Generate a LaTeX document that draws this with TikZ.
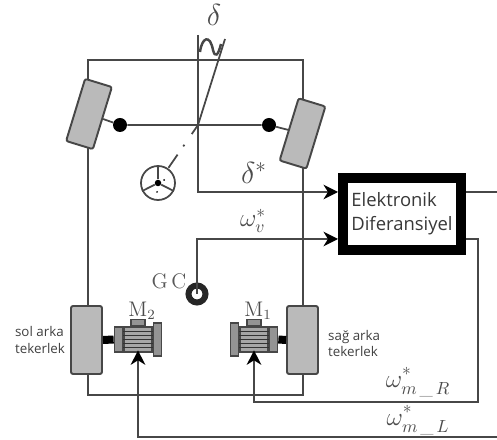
\documentclass[tikz,border=0pt]{standalone}
\usepackage{amsmath,amssymb}
\usepackage{fontspec}
\setsansfont{Open Sans}
\usetikzlibrary{shapes,arrows.meta,positioning,calc}

\begin{document}
\begin{tikzpicture}[
    line/.style={draw=black!72, line width=1pt},
    arrow/.style={line, -{Stealth[length=2.9mm, width=2.9mm, inset=0.9mm, black]}},
    wheel/.style={rectangle, draw=black!72, line width=1.1pt, fill=black!27, rounded corners=1.2pt},
    axledot/.style={circle, fill=black, inner sep=0pt, minimum size=0.28cm},
    endcap/.style={rectangle, draw=black!72, line width=0.9pt, fill=black!42, inner sep=0pt, minimum width=0.16cm},
    motorbody/.style={rectangle, draw=black!72, line width=0.9pt, fill=black!35, inner sep=0pt, minimum width=0.56cm, minimum height=0.5cm},
    fin/.style={black!80, line width=0.9pt},
    shaft/.style={black, line width=0.16cm},
    wheeltext/.style={font=\sffamily\fontsize{7.6}{9.6}\selectfont, text=black!75, align=left},
    mathtext/.style={font=\LARGE, text=black!70},
    omegatext/.style={font=\Large, text=black!70}
]
\useasboundingbox (0,0) rectangle (9.94,8.78);

% Vehicle frame and wheels
\node[line, rectangle, minimum width=4.3cm, minimum height=6.7cm] (frame) at (3.91,4.23) {};

\node[wheel, minimum width=0.56cm, minimum height=1.3cm, rotate=-17] (wheel_fl) at (1.78,6.5) {};
\node[wheel, minimum width=0.56cm, minimum height=1.3cm, rotate=-17] (wheel_fr) at (6.05,6.11) {};
\node[wheel, minimum width=0.62cm, minimum height=1.36cm] (wheel_rl) at (1.73,1.98) {};
\node[wheel, minimum width=0.62cm, minimum height=1.36cm] (wheel_rr) at (6.05,1.98) {};

% Front axle
\node[axledot] (axle_l) at (2.40,6.28) {};
\node[axledot] (axle_r) at (5.38,6.28) {};
\coordinate (pivot) at (3.96,6.28);
\draw[line] (wheel_fl) -- (axle_l) -- (axle_r) -- (wheel_fr);

% Steering wheel
\node[line, circle, inner sep=0pt, minimum size=0.68cm] (steer) at (3.16,5.12) {};
\node[axledot, minimum size=0.13cm] (hub) at (steer.center) {};
\node[axledot, minimum size=0.04cm] (hub_a) at (3.28,5.18) {};
\node[axledot, minimum size=0.04cm] (hub_b) at (3.14,4.94) {};
\foreach \spoke in {90,207,333}
    \draw[line] (hub) -- (steer.\spoke);

% Steering angle
\coordinate (steer_top) at (3.96,8.08);
\coordinate (tilt_top) at (4.50,8.00);
\draw[line] (pivot) -- (tilt_top);
\draw[line, dash pattern=on 0.22cm off 0.26cm on 0.04cm off 0.2cm on 0.32cm off 2cm] (pivot) -- (steer);
\draw[line, line width=1.4pt] (4.00,7.74) .. controls (4.04,8.04) and (4.20,8.10) .. (4.26,7.78)
    .. controls (4.30,7.62) and (4.36,7.66) .. (4.42,7.90);
\node[mathtext] (delta) at (4.28,8.48) {$\delta$};

% Electronic differential
\node[rectangle, draw=black, line width=0.2cm, minimum width=2.36cm, minimum height=1.44cm, inner sep=0pt,
      font=\sffamily\fontsize{10.5}{13.6}\selectfont, text=black!78, align=left] (diff) at (8.04,4.50)
    {Elektronik\\Diferansiyel};
\coordinate (delta_in) at (6.76,4.94);
\coordinate (omega_in) at (6.76,4.00);
\coordinate (out_end) at (9.94,4.94);
\draw[arrow] (steer_top) |- (delta_in);
\draw[line] (diff.east |- delta_in) -- (out_end);
\node[mathtext] (delta_star) at (5.08,5.32) {$\delta^{*}$};

% Speed reference
\node[circle, draw=black!85, line width=0.12cm, fill=white, inner sep=0pt, minimum size=0.34cm] (gc) at (3.94,2.90) {};
\node[font=\large, text=black!65] (gc_label) at (3.38,3.16) {G\,C};
\draw[arrow] (gc.center) |- (omega_in);
\node[omegatext] (omega_v) at (5.06,4.36) {$\omega_{v}^{*}$};

% Motor M2
\node[motorbody] (motor_l) at (2.76,1.99) {};
\node[endcap, minimum height=0.5cm, left=0pt of motor_l] (cap_ll) {};
\node[endcap, minimum height=0.66cm, right=0pt of motor_l] (cap_lr) {};
\node[endcap, minimum width=0.28cm, minimum height=0.12cm, above=0pt of motor_l] (top_l) {};
\foreach \fy in {-0.16,-0.08,0,0.08,0.16}
    \draw[fin] ([yshift=\fy cm]motor_l.west) -- ([yshift=\fy cm]motor_l.east);
\draw[shaft] (wheel_rl.east) -- (cap_ll.west);
\node[font=\large, text=black!70] (m_two) at (2.84,2.56) {$\mathrm{M}_{2}$};

% Motor M1
\node[motorbody] (motor_r) at (5.08,1.99) {};
\node[endcap, minimum height=0.66cm, left=0pt of motor_r] (cap_rl) {};
\node[endcap, minimum height=0.5cm, right=0pt of motor_r] (cap_rr) {};
\node[endcap, minimum width=0.28cm, minimum height=0.12cm, above=0pt of motor_r] (top_r) {};
\foreach \fy in {-0.16,-0.08,0,0.08,0.16}
    \draw[fin] ([yshift=\fy cm]motor_r.west) -- ([yshift=\fy cm]motor_r.east);
\draw[shaft] (cap_rr.east) -- (wheel_rr.west);
\node[font=\large, text=black!70] (m_one) at (5.16,2.56) {$\mathrm{M}_{1}$};

% Motor references
\coordinate (turn_r) at (9.56,0.74);
\coordinate (bus_l) at (9.94,0.04);
\draw[arrow, shorten >=-0.05cm] (diff.east |- omega_in) -| (turn_r) -| (motor_r.south);
\draw[arrow, shorten >=-0.05cm] (bus_l) -| (motor_l.south);
\node[omegatext] (omega_r) at (8.36,1.14) {$\omega_{m\,\_\,R}^{\raisebox{2pt}{$\scriptstyle *$}}$};
\node[omegatext] (omega_l) at (8.36,0.38) {$\omega_{m\,\_\,L}^{\raisebox{2pt}{$\scriptstyle *$}}$};

% Wheel labels
\node[wheeltext] (sol_label) at (0.80,1.98) {sol arka\\tekerlek};
\node[wheeltext, anchor=west] (sag_label) at (6.44,1.91) {sağ arka\\tekerlek};

\end{tikzpicture}
\end{document}
